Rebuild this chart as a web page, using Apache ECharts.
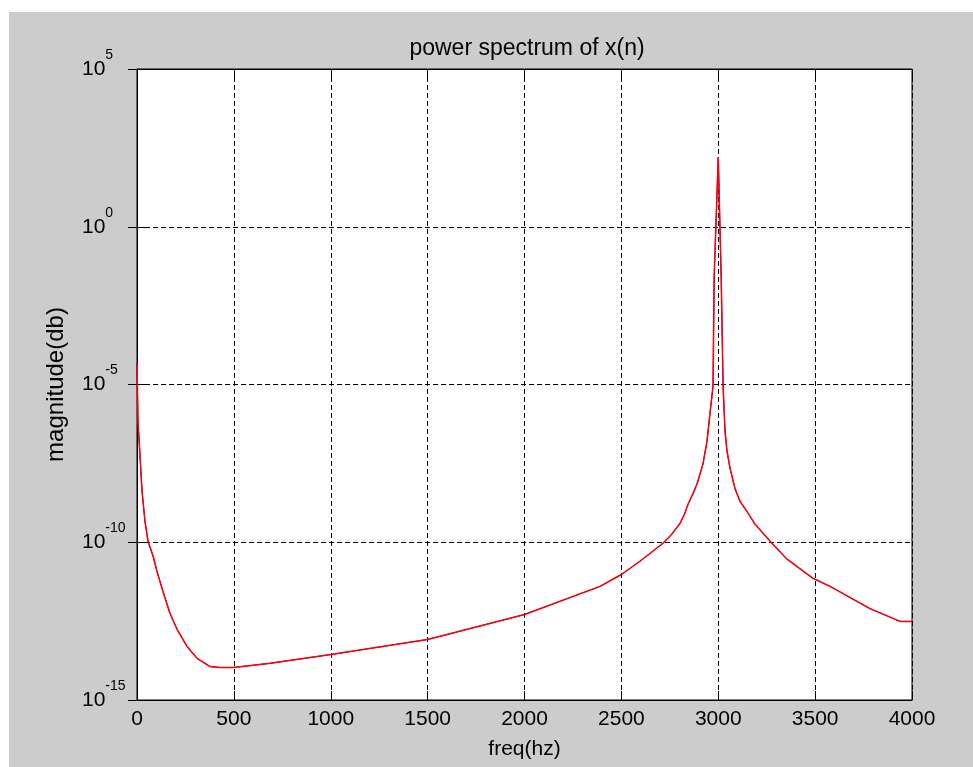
<!DOCTYPE html>
<html>
<head>
<meta charset="utf-8">
<script src="https://cdn.jsdelivr.net/npm/echarts@6/dist/echarts.min.js"></script>
<style>
    html, body { margin: 0; padding: 0; background: #ffffff; }
    #chart { position: absolute; left: 9px; top: 12px; width: 964px; height: 755px; }
</style>
</head>
<body>
<div id="chart"></div>
<script>
    // frequency (hz) and power
    const freqs = [0, 5, 15, 26, 41, 57, 83, 103, 134, 170, 207, 258, 310, 377, 429, 496, 599, 687,
        1000, 1500, 2000, 2390, 2500, 2596, 2715, 2760, 2803, 2825, 2844, 2868, 2890, 2921, 2942, 2957, 2973, 2979,
        3000, 3015, 3025, 3035, 3045, 3061, 3086, 3112, 3148, 3190, 3277, 3355, 3489, 3577, 3783, 3938, 4000]
    const power = [5.0e-5, 6.9e-7, 6.3e-8, 4.2e-9, 4.7e-10, 1.07e-10, 3.6e-11, 1.2e-11, 2.75e-12, 5.6e-13,
        1.74e-13, 5.0e-14, 2.1e-14, 1.15e-14, 1.07e-14, 1.07e-14, 1.26e-14, 1.45e-14,
        2.75e-14, 8.3e-14, 5.1e-13, 4.0e-12, 9.5e-12, 2.5e-11, 9.3e-11, 1.8e-10, 4.0e-10, 7.6e-10, 1.6e-9,
        3.3e-9, 6.9e-9, 3.0e-8, 1.6e-7, 1.15e-6, 8.9e-6, 2.75e-2,
        158, 2.75e-2, 8.9e-6, 3.3e-7, 7.8e-8, 2.2e-8, 5.1e-9, 2.0e-9, 9.5e-10, 3.7e-10, 9.3e-11, 2.9e-11,
        7.2e-12, 4.0e-12, 7.9e-13, 3.1e-13, 3.1e-13]
    const xTicks = [0, 500, 1000, 1500, 2000, 2500, 3000, 3500, 4000]
    const yExponents = [-15, -10, -5, 0, 5]

    const font = 'Liberation Sans, Arial, sans-serif'
    const points = freqs.map((f, i) => [f, power[i]])

    const chart = echarts.init(document.getElementById('chart'))

    const tickStyle = { show: true, inside: true, length: 9, lineStyle: { color: '#000' } }
    const lineAxis = { show: true, lineStyle: { color: '#000', width: 1 } }
    const gridLine = { show: true, lineStyle: { color: '#000', type: [5, 3], width: 1 } }

    const option = {
        backgroundColor: '#cccccc',
        animation: false,
        title: {
            text: 'power spectrum of x(n)',
            left: 513,
            top: 20,
            textAlign: 'center',
            textStyle: { fontFamily: font, fontSize: 23, fontWeight: 'normal', color: '#000' }
        },
        grid: {
            left: 128, right: 61, top: 57, bottom: 67,
            show: true,
            backgroundColor: '#ffffff',
            borderColor: '#000',
            borderWidth: 1
        },
        xAxis: [
            {
                type: 'value',
                min: xTicks[0],
                max: xTicks[xTicks.length - 1],
                interval: 500,
                name: 'freq(hz)',
                nameLocation: 'middle',
                nameGap: 39,
                nameTextStyle: { fontFamily: font, fontSize: 21, color: '#000' },
                axisLine: lineAxis,
                axisTick: tickStyle,
                axisLabel: {
                    fontFamily: font, fontSize: 21, color: '#000', margin: 9,
                    formatter: function (v) { return String(v) }
                },
                splitLine: gridLine
            },
            {
                type: 'value',
                position: 'top',
                min: xTicks[0],
                max: xTicks[xTicks.length - 1],
                interval: 500,
                axisLine: lineAxis,
                axisTick: tickStyle,
                axisLabel: { show: false },
                splitLine: { show: false }
            }
        ],
        yAxis: [
            {
                type: 'log',
                logBase: 10,
                min: Math.pow(10, yExponents[0]),
                max: Math.pow(10, yExponents[yExponents.length - 1]),
                interval: 5,
                name: 'magnitude(db)',
                nameLocation: 'middle',
                nameRotate: 90,
                nameGap: 69,
                nameTextStyle: { fontFamily: font, fontSize: 24, color: '#000' },
                axisLine: lineAxis,
                axisTick: tickStyle,
                axisLabel: {
                    align: 'left',
                    margin: 55,
                    formatter: function (v) {
                        const e = Math.round(Math.log10(v))
                        return '{a|10}{b|' + e + '}'
                    },
                    rich: {
                        a: { fontFamily: font, fontSize: 21, lineHeight: 42, color: '#000', verticalAlign: 'middle' },
                        b: { fontFamily: font, fontSize: 14, lineHeight: 14, color: '#000', verticalAlign: 'top' }
                    }
                },
                splitLine: gridLine
            },
            {
                type: 'log',
                logBase: 10,
                position: 'right',
                min: Math.pow(10, yExponents[0]),
                max: Math.pow(10, yExponents[yExponents.length - 1]),
                interval: 5,
                axisLine: lineAxis,
                axisTick: tickStyle,
                axisLabel: { show: false },
                splitLine: { show: false }
            }
        ],
        series: [
            {
                type: 'line',
                symbol: 'none',
                data: points,
                lineStyle: { color: '#0000ff', width: 1 },
                z: 3
            },
            {
                type: 'line',
                symbol: 'none',
                data: points,
                lineStyle: { color: '#ff0000', width: 1.5 },
                z: 4
            }
        ]
    }
    chart.setOption(option)
</script>
</body>
</html>
